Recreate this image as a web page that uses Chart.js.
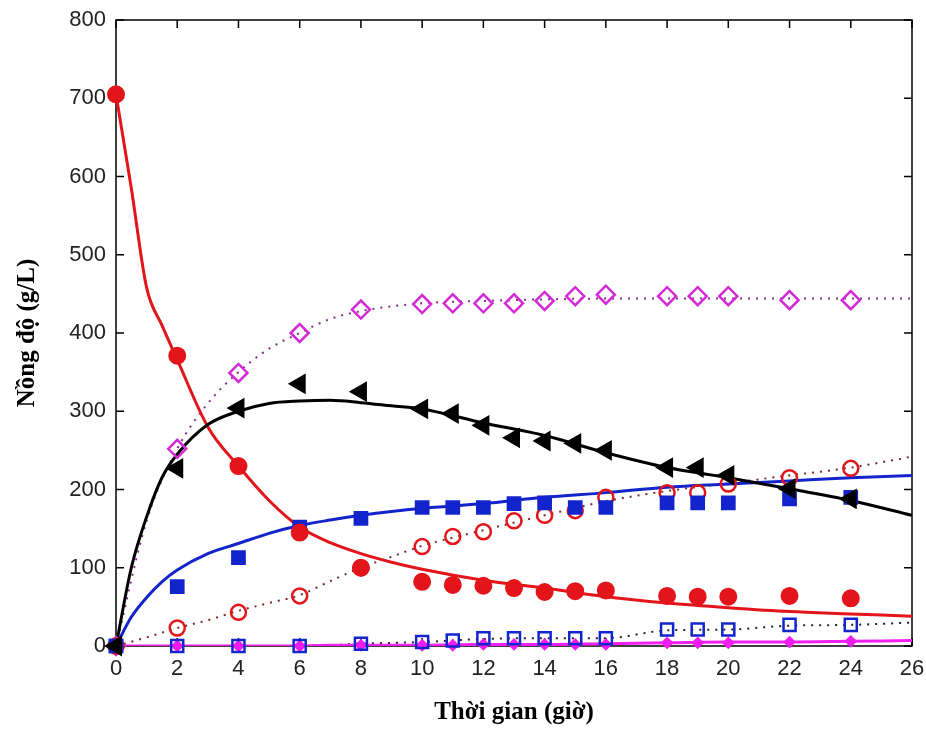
<!DOCTYPE html>
<html>
<head>
<meta charset="utf-8">
<script src="https://cdn.jsdelivr.net/npm/chart.js@4/dist/chart.umd.min.js"></script>
<style>
  html, body { margin: 0; padding: 0; background: #fff; }
  #wrap { width: 926px; height: 729px; }
</style>
</head>
<body>
<div id="wrap"><canvas id="myChart"></canvas></div>
<script>
// measured samples (hours)
const hours = [0, 2, 4, 6, 8, 10, 11, 12, 13, 14, 15, 16, 18, 19, 20, 22, 24]
const substrate = [705, 371, 230, 145, 100, 82, 78, 77, 74, 69, 70, 71, 64, 63, 63, 64, 61]
const triangles = [0, 227, 304, 335, 325, 303, 297, 282, 266, 262, 259, 250, 228, 228, 218, 201, 188]
const blueFilled = [0, 76, 113, 152, 163, 177, 177, 177, 182, 183, 177, 177, 183, 183, 183, 188, 190]
const redOpen = [0, 23, 43, 64, 100, 127, 140, 146, 160, 167, 173, 190, 196, 196, 207, 215, 227]
const diamonds = [0, 252, 349, 400, 430, 437, 438, 438, 438, 441, 447, 449, 447, 447, 447, 442, 442]
const blueOpen = [0, 0, 0, 0, 3, 5, 7, 10, 10, 10, 10, 10, 21, 21, 21, 27, 27]
const pinkFilled = [0, 0, 0, 0, 1, 1, 1, 2, 2, 2, 2, 2, 4, 4, 4, 5, 6]

// model curves
const modelT = [0, 0.5, 1, 1.5, 2, 3, 4, 5, 6, 7, 8, 9, 10, 12, 14, 16, 18, 20, 22, 24, 26]
const redModel = [705, 585, 458, 410, 366, 280, 230, 186, 152, 132, 118, 107, 98, 84, 74, 63, 55, 49, 44, 41, 38]
const blackModel = [0, 100, 165, 215, 245, 283, 300, 310, 313, 314, 311, 307, 303, 285, 269, 247, 228, 215, 201, 186, 167]
const blueModel = [0, 37, 62, 82, 97, 118, 131, 144, 154, 161, 167, 172, 176, 182, 190, 196, 203, 207, 211, 215, 218]
const pinkModel = [0, 0, 0, 0, 0, 0, 0, 0, 0, 1, 1, 1, 1, 2, 2, 3, 4, 5, 5, 6, 7]

const dotT = [0, 1, 2, 3, 4, 5, 6, 7, 8, 9, 10, 12, 14, 16, 18, 20, 22, 24, 26]
const diamondDots = [0, 160, 252, 310, 350, 380, 400, 418, 428, 434, 438, 441, 443, 444, 444, 444, 444, 444, 444]
const redDots = [0, 11, 23, 33, 45, 55, 65, 83, 100, 114, 128, 148, 167, 185, 198, 208, 218, 228, 242]
const blueDots = [0, 0, 0, 0, 0, 0, 0, 1, 3, 4, 5, 9, 10, 10, 20, 21, 26, 27, 30]

const xTicks = [0, 2, 4, 6, 8, 10, 12, 14, 16, 18, 20, 22, 24, 26]
const yTicks = [0, 100, 200, 300, 400, 500, 600, 700, 800]

function pts(xs, ys) {
  return xs.map((x, i) => ({ x: x, y: ys[i] }))
}

function markers(ys, style, color, fill, r, extra) {
  return Object.assign({
    data: pts(hours, ys),
    showLine: false,
    pointStyle: style,
    pointRadius: r,
    pointBorderColor: color,
    pointBackgroundColor: fill ? color : 'rgba(0,0,0,0)',
    pointBorderWidth: 2,
    clip: false
  }, extra || {})
}

function curve(xs, ys, color, width, dash) {
  return {
    data: pts(xs, ys),
    showLine: true,
    borderColor: color,
    borderWidth: width,
    borderDash: dash || [],
    pointRadius: 0,
    tension: 0.3,
    cubicInterpolationMode: 'monotone'
  }
}

// MATLAB-like box with inward ticks
const boxPlugin = {
  id: 'box',
  beforeDatasetsDraw(chart) {
    const { ctx, chartArea: a, scales } = chart
    ctx.save()
    ctx.strokeStyle = '#000'
    ctx.lineWidth = 1.5
    ctx.strokeRect(a.left, a.top, a.right - a.left, a.bottom - a.top)
    ctx.beginPath()
    xTicks.forEach(v => {
      const px = scales.x.getPixelForValue(v)
      ctx.moveTo(px, a.bottom); ctx.lineTo(px, a.bottom - 8)
      ctx.moveTo(px, a.top); ctx.lineTo(px, a.top + 8)
    })
    yTicks.forEach(v => {
      const py = scales.y.getPixelForValue(v)
      ctx.moveTo(a.left, py); ctx.lineTo(a.left + 8, py)
      ctx.moveTo(a.right, py); ctx.lineTo(a.right - 8, py)
    })
    ctx.stroke()
    ctx.restore()
  }
}

const red = '#e3151b'
const blue = '#1424cc'
const pink = '#d22ad6'

const ctx = document.getElementById('myChart').getContext('2d')

new Chart(ctx, {
  type: 'scatter',
  data: {
    datasets: [
      markers(triangles, 'triangle', '#000', true, 10, { pointRotation: -90 }),
      markers(substrate, 'circle', red, true, 8),
      markers(blueFilled, 'rect', blue, true, 9),
      markers(redOpen, 'circle', red, false, 7.5, { pointBorderWidth: 2.5 }),
      markers(diamonds, 'rectRot', pink, false, 9, { pointBorderWidth: 2.5 }),
      markers(blueOpen, 'rect', blue, false, 8.5, { pointBorderWidth: 2.5 }),
      markers(pinkFilled, 'rectRot', '#f01cf0', true, 5),
      curve(modelT, blackModel, '#000', 3),
      curve(modelT, redModel, red, 3),
      curve(modelT, blueModel, blue, 3),
      curve(modelT, pinkModel, '#f020f0', 3),
      curve(dotT, diamondDots, '#8a2a90', 2, [2, 6]),
      curve(dotT, redDots, '#7a2a2a', 2, [2, 6]),
      curve(dotT, blueDots, '#202030', 2, [2, 6])
    ]
  },
  options: {
    responsive: true,
    maintainAspectRatio: false,
    animation: false,
    layout: { padding: { top: 20, right: 14, left: 0, bottom: 0 } },
    plugins: {
      legend: { display: false },
      tooltip: { enabled: false }
    },
    scales: {
      x: {
        type: 'linear',
        min: 0,
        max: 26,
        afterFit: s => { s.height = 83; s.paddingLeft = 0; s.paddingRight = 0 },
        afterBuildTicks: s => { s.ticks = xTicks.map(v => ({ value: v })) },
        grid: { display: false, drawTicks: false },
        border: { display: false },
        ticks: {
          padding: 10,
          color: '#222',
          font: { family: "'Liberation Sans', Arial, sans-serif", size: 22 }
        },
        title: {
          display: true,
          text: 'Thời gian (giờ)',
          color: '#000',
          padding: { top: 0, bottom: 1 },
          font: { family: "'Liberation Serif', 'Times New Roman', serif", size: 25, weight: 'bold' }
        }
      },
      y: {
        min: 0,
        max: 800,
        afterFit: s => { s.width = 116; s.paddingTop = 0; s.paddingBottom = 0 },
        afterBuildTicks: s => { s.ticks = yTicks.map(v => ({ value: v })) },
        grid: { display: false, drawTicks: false },
        border: { display: false },
        ticks: {
          padding: 10,
          color: '#222',
          font: { family: "'Liberation Sans', Arial, sans-serif", size: 22 }
        },
        title: {
          display: true,
          text: 'Nồng độ (g/L)',
          color: '#000',
          padding: { top: 13, bottom: 0 },
          font: { family: "'Liberation Serif', 'Times New Roman', serif", size: 25, weight: 'bold' }
        }
      }
    }
  },
  plugins: [boxPlugin]
})
</script>
</body>
</html>
